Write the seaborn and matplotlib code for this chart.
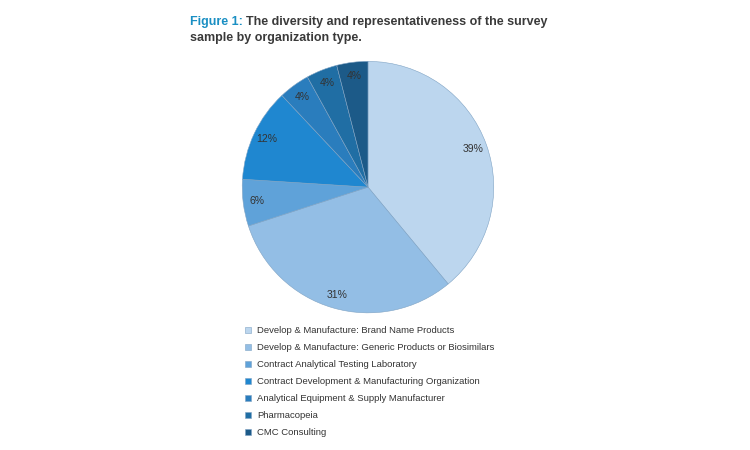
import matplotlib
matplotlib.use("Agg")
import matplotlib.pyplot as plt
import seaborn as sns

# Data
org_types = [
    "Develop & Manufacture: Brand Name Products",
    "Develop & Manufacture: Generic Products or Biosimilars",
    "Contract Analytical Testing Laboratory",
    "Contract Development & Manufacturing Organization",
    "Analytical Equipment & Supply Manufacturer",
    "Pharmacopeia",
    "CMC Consulting",
]
shares = [39, 31, 6, 12, 4, 4, 4]
slice_colors = ["#bcd6ee", "#93bee5", "#5fa2d9", "#1f87d0", "#2a7dbd", "#206ea4", "#1c5a88"]

sns.set_theme(style="white")
plt.rcParams["font.family"] = ["Liberation Sans", "DejaVu Sans"]
palette = sns.color_palette(slice_colors)

fig = plt.figure(figsize=(7.5, 4.5), dpi=100)
fig.patch.set_facecolor("white")

# Pie
ax = fig.add_axes([0.3213, 0.302, 0.3387, 0.5644])
wedges, texts, autotexts = ax.pie(
    shares, colors=palette, startangle=90, counterclock=False,
    autopct="%d%%", pctdistance=0.89,
    wedgeprops=dict(edgecolor="#7fa3c4", linewidth=0.4),
    textprops=dict(fontsize=7.5, color="#333333"),
)
ax.set_xlim(-1.01, 1.01)
ax.set_ylim(-1.01, 1.01)
ax.set_aspect("equal")

# Title (two colours on first line)
t1 = fig.text(190 / 750, 1 - 25 / 450, "Figure 1:", fontsize=9, fontweight="bold",
              color="#1a8fc3", ha="left", va="baseline")
fig.canvas.draw()
ext = t1.get_window_extent()
fig.text((ext.x1 + 3) / 750, 1 - 25 / 450, "The diversity and representativeness of the survey",
         fontsize=9, fontweight="bold", color="#3a3a3a", ha="left", va="baseline")
fig.text(190 / 750, 1 - 41 / 450, "sample by organization type.", fontsize=9,
         fontweight="bold", color="#3a3a3a", ha="left", va="baseline")

# Legend
leg = fig.legend(wedges, org_types, loc="upper left", bbox_to_anchor=(245 / 750, 1 - 326 / 450),
                 frameon=False, fontsize=6.8, handlelength=0.6, handleheight=0.6,
                 handletextpad=0.7, labelspacing=0.85, borderaxespad=0, borderpad=0)
for txt in leg.get_texts():
    txt.set_color("#333333")

fig.savefig("out.png", dpi=100, facecolor="white")
